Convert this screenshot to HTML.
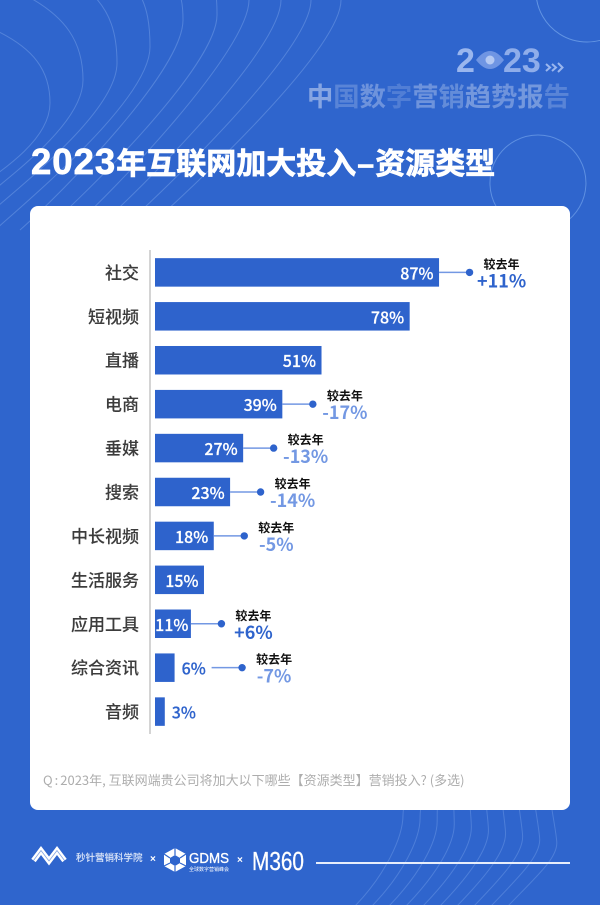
<!DOCTYPE html>
<html lang="zh-CN">
<head>
<meta charset="utf-8">
<title>2023年互联网加大投入-资源类型</title>
<style>
html,body{margin:0;padding:0;background:#2f65cd;}
#page{position:relative;width:600px;height:905px;overflow:hidden;background:#2f65cd;font-family:"Liberation Sans","Noto Sans CJK SC",sans-serif;}
#page>svg{position:absolute;left:0;top:0;}
.abs{position:absolute;white-space:nowrap;line-height:1;}
#title{left:31px;top:144px;color:#fff;font-size:30px;font-weight:700;font-family:"Noto Sans CJK SC",sans-serif;-webkit-text-stroke:.7px #fff;}
#title .d{font-family:"Liberation Sans",sans-serif;font-size:36.5px;letter-spacing:1px;}
#title .dash{display:inline-block;width:19px;text-align:center;font-family:"Liberation Sans",sans-serif;}
#card{left:30px;top:206px;width:540px;height:604px;background:#fff;border-radius:8px;}
#question{left:43px;top:773px;color:#adadad;font-size:13px;font-family:"Noto Sans CJK SC",sans-serif;}
#question .colon{margin:0 2px;}
#brand-cn{left:307px;top:82px;font-size:26.3px;font-weight:700;font-family:"Noto Sans CJK SC",sans-serif;color:#fff;}
</style>
</head>
<body>
<div id="page">
<svg id="bg" width="600" height="905" viewBox="0 0 600 905"></svg>

<svg width="600" height="905" viewBox="0 0 600 905">
  <text x="456" y="72" font-family="'Liberation Sans',sans-serif" font-weight="700" font-size="34" fill="#9ab6ee">2</text>
  <path d="M476 60 Q490 42 504 60 Q490 78 476 60Z" fill="#6f95e3"/>
  <circle cx="490" cy="60" r="4.500" fill="#b4c9f3"/>
  <text x="503" y="72" font-family="'Liberation Sans',sans-serif" font-weight="700" font-size="34" fill="#8fadea">23</text>
  <g fill="none" stroke="#9ab6ee" stroke-width="2">
    <path d="M546 64l4 3.500-4 3.500"/><path d="M552 64l4 3.500-4 3.500"/><path d="M558 63l4.500 4.500-4.500 4.500"/>
  </g>
</svg>
<div id="brand-cn" class="abs"><span style="opacity:.42">中</span><span style="opacity:.2">国</span><span style="opacity:.3">数</span><span style="opacity:.16">字</span><span style="opacity:.3">营</span><span style="opacity:.25">销</span><span style="opacity:.33">趋</span><span style="opacity:.3">势</span><span style="opacity:.33">报</span><span style="opacity:.2">告</span></div>

<div id="title" class="abs"><span class="d">2023</span>年互联网加大投入<span class="dash">–</span>资源类型</div>

<div id="card" class="abs"></div>

<svg id="chart" width="600" height="905" viewBox="0 0 600 905"></svg>

<div id="question" class="abs">Q<span class="colon">:</span>2023年, 互联网端贵公司将加大以下哪些【资源类型】营销投入? (多选)</div>

<svg width="600" height="905" viewBox="0 0 600 905">
  <g>
    <path d="M33.500 860.500 L41 850.500 L49 861 L57 850.500 L64.500 860.500" fill="none" stroke="#fff" stroke-width="5.500" stroke-linejoin="miter"/>
    <path d="M33.500 860.500 L41 850.500 L49 861 L57 850.500 L64.500 860.500" fill="none" stroke="#2f65cd" stroke-width=".8" opacity=".6"/>
  </g>
  <text x="76" y="861" font-family="'Noto Sans CJK SC',sans-serif" font-size="9.500" fill="#dfe8f9" stroke="#dfe8f9" stroke-width=".15">秒针营销科学院</text>
  <text x="150" y="862" font-family="'Liberation Sans',sans-serif" font-size="10" font-weight="700" fill="#fff">×</text>
  <g>
    <polygon points="175,848 186,854 186,866 175,872 164,866 164,854" fill="#fff"/>
    <polygon points="175,855 180,858 180,863 175,866 170,863 170,858" fill="#2f65cd"/>
    <path d="M175 848V855M186 854L180 858M186 866L180 863M175 872V866M164 866L170 863M164 854L170 858" stroke="#2f65cd" stroke-width="1.200"/>
  </g>
  <text x="189" y="863" font-family="'Liberation Sans',sans-serif" font-size="14.500" fill="#fff" stroke="#fff" stroke-width=".35" textLength="40" lengthAdjust="spacingAndGlyphs">GDMS</text>
  <text x="189" y="871" font-family="'Noto Sans CJK SC',sans-serif" font-size="5" fill="#fff">全球数字营销峰会</text>
  <text x="237" y="863" font-family="'Liberation Sans',sans-serif" font-size="10" font-weight="700" fill="#fff">×</text>
  <text x="252" y="870" font-family="'Liberation Sans',sans-serif" font-size="26" fill="#fff" stroke="#fff" stroke-width=".3" textLength="52" lengthAdjust="spacingAndGlyphs">M360</text>
  <rect x="316" y="862" width="254" height="2" fill="#e6edfb"/>
</svg>
</div>

<script>
const categories = ['社交','短视频','直播','电商','垂媒','搜索','中长视频','生活服务','应用工具','综合资讯','音频'];
const shareValues = [87,78,51,39,27,23,18,15,11,6,3];
const yearChange = [11,null,null,-17,-13,-14,-5,null,6,-7,null];
const changeCaption = '较去年';

const SVG_NS = 'http://www.w3.org/2000/svg';
const BLUE = '#2e63cc';
const LIGHT_BLUE = '#7398e3';
const CJK = '"Noto Sans CJK SC",sans-serif';
const chart = document.getElementById('chart');
const bg = document.getElementById('bg');

function xScale(v){ return 155 + v * 3.265; }
function yBand(i){ return 272.4 + i * 43.92; }
const BAR_H = 28.5;
const INSIDE_MIN = 10;

function makeLabel(x, y, str, size, weight, fill, anchor){
  const t = document.createElementNS(SVG_NS, 'text');
  t.setAttribute('x', x);
  t.setAttribute('y', y);
  t.setAttribute('font-family', CJK);
  t.setAttribute('font-size', size);
  t.setAttribute('font-weight', weight);
  t.setAttribute('fill', fill);
  t.setAttribute('text-anchor', anchor);
  t.setAttribute('dominant-baseline', 'central');
  t.textContent = str;
  chart.appendChild(t);
  return t;
}

const axisLine = document.createElementNS(SVG_NS, 'line');
axisLine.setAttribute('x1', 150);
axisLine.setAttribute('x2', 150);
axisLine.setAttribute('y1', 250);
axisLine.setAttribute('y2', 734);
axisLine.setAttribute('stroke', '#a8a8a8');
axisLine.setAttribute('stroke-width', 1);


chart.appendChild(axisLine);

categories.forEach(function(name, i){
  const cy = yBand(i);
  const v = shareValues[i];
  const end = xScale(v);

  const cat = makeLabel(139, cy - 1, name, 17, 500, '#3c3c3c', 'end');
  cat.setAttribute('stroke', '#3c3c3c');
  cat.setAttribute('stroke-width', '.1');
  
  

  const bar = document.createElementNS(SVG_NS, 'rect');
  bar.setAttribute('x', xScale(0));
  bar.setAttribute('y', cy - BAR_H / 2);
  bar.setAttribute('width', end - xScale(0));
  bar.setAttribute('height', BAR_H);
  bar.setAttribute('fill', BLUE);
  
  
  chart.appendChild(bar);

  const inside = v > INSIDE_MIN;
  const val = inside
    ? makeLabel(end - (v < 12 ? 2.5 : 5.5), cy, v + '%', 16, 500, '#fff', 'end')
    : makeLabel(end + 7, cy, v + '%', 16, 500, BLUE, 'start');
  val.setAttribute('stroke', inside ? '#fff' : BLUE);
  val.setAttribute('stroke-width', '.2');
  
  

  const change = yearChange[i];
  if (change !== null) {
    const lineStart = inside ? end : end + 37;
    const dotX = inside ? end + 30.5 : end + 67.5;

    const connector = document.createElementNS(SVG_NS, 'line');
    connector.setAttribute('x1', lineStart);
    connector.setAttribute('x2', dotX);
    connector.setAttribute('y1', cy);
    connector.setAttribute('y2', cy);
    connector.setAttribute('stroke', LIGHT_BLUE);
    connector.setAttribute('stroke-width', 1.5);
    
    
    chart.appendChild(connector);

    const dot = document.createElementNS(SVG_NS, 'circle');
    dot.setAttribute('cx', dotX);
    dot.setAttribute('cy', cy);
    dot.setAttribute('r', 3.7);
    dot.setAttribute('fill', BLUE);
    
    
    chart.appendChild(dot);

    const cap = makeLabel(dotX + 32, cy - 8.5, changeCaption, 12, 700, '#111', 'middle');
    
    

    const delta = makeLabel(dotX + 32, cy + 8, (change > 0 ? '+' : '') + change + '%', 18, 700, change > 0 ? BLUE : LIGHT_BLUE, 'middle');
    
    
  }
});

/* decorative background curves */
function addCurve(d, stroke, name){
  const p = document.createElementNS(SVG_NS, 'path');
  p.setAttribute('d', d);
  p.setAttribute('fill', 'none');
  p.setAttribute('stroke', stroke);
  p.setAttribute('stroke-width', 1);
  
  
  bg.appendChild(p);
}
const topStartX = [-5,25,93,140,180,216,249,281,311,341];
const topPeakX = [50,83,117,150,183,217,249,281,311,341];
const topPeakY = [103,80,63,47,20,15,0,0,0,0];
topStartX.forEach(function(sx, k){
  const px = topPeakX[k];
  const py = topPeakY[k];
  const sy = k === 0 ? 30 : -5;
  const ex = -80 + 25 * k;
  const ey = 230;
  addCurve('M' + sx + ' ' + sy +
    ' C' + (sx + (px - sx) * 0.7) + ' ' + (sy + (py - sy) * 0.25) + ' ' + px + ' ' + (py - (py - sy) * 0.45) + ' ' + px + ' ' + py +
    ' C' + px + ' ' + (py + 50) + ' ' + (ex + 45) + ' ' + (ey - 40) + ' ' + ex + ' ' + ey,
    'rgba(165,200,250,.3)', 'bg-curve-top');
});
for (let k = 0; k < 10; k++) {
  const t = k / 9;
  const top = 405 + 16.2 * k;
  const bottom = 355 + 17 * k;
  const bulge = top - 2 + 8 * t;
  const py = 815 + 28 * t;
  addCurve('M' + top + ' 800 C' + top + ' 806 ' + bulge + ' ' + (py - 8) + ' ' + bulge + ' ' + py +
    ' C' + bulge + ' ' + (py + (905 - py) * 0.25) + ' ' + (bottom + 30) + ' ' + 875 + ' ' + bottom + ' 906',
    'rgba(165,200,250,.26)', 'bg-curve-bottom');
}
addCurve('M538 135 a48 48 0 1 1 -0.1 0Z', 'rgba(150,195,250,.45)', 'bg-circle-large');
addCurve('M587 -60 a51 51 0 1 1 -0.1 0Z', 'rgba(150,195,250,.5)', 'bg-circle-top');
</script>
</body>
</html>
